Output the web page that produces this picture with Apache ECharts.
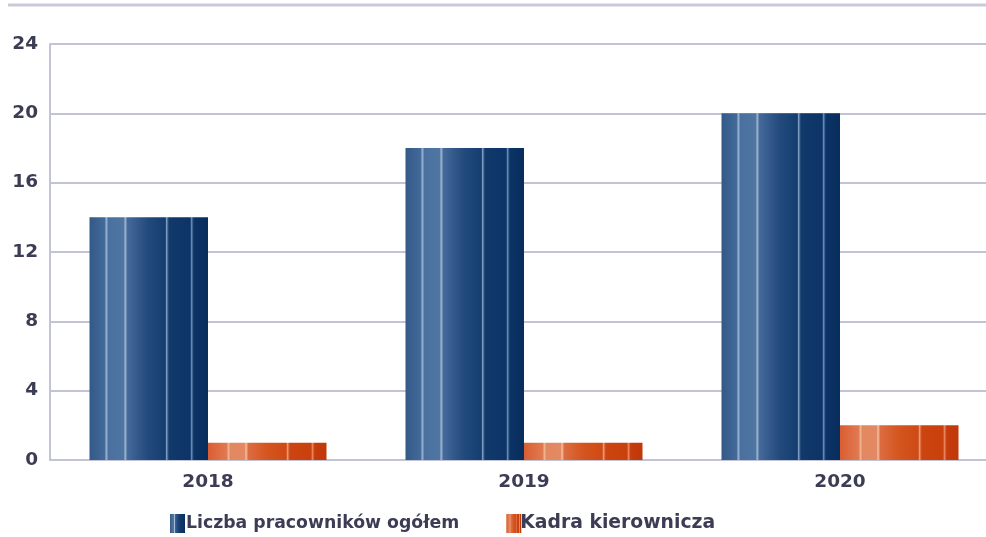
<!DOCTYPE html>
<html><head><meta charset="utf-8">
<script src="https://cdn.jsdelivr.net/npm/echarts@6/dist/echarts.min.js"></script>
<style>html,body{margin:0;padding:0;background:#fff;overflow:hidden;width:986px;height:537px}#c{width:998px;height:537px}</style>
</head><body><div id="c"></div>
<script>
var categories = ['2018', '2019', '2020'];
var seriesNames = ['Liczba pracowników ogółem', 'Kadra kierownicza'];
var totalEmployees = [14, 18, 20];
var managers = [1, 1, 2];
var yTicks = [0, 4, 8, 12, 16, 20, 24];

var textColor = '#3c3c54';
var lineColor = '#c3c3d6';
var font = '"DejaVu Sans", Verdana, sans-serif';

function grad(stops) {
  return new echarts.graphic.LinearGradient(0, 0, 1, 0, stops.map(function (s) { return { offset: s[0], color: s[1] }; }));
}
var blue = grad([
  [0, '#33598a'], [0.13, '#436a98'], [0.14, '#9fb8d4'], [0.16, '#4a70a0'],
  [0.29, '#4f76a2'], [0.30, '#a4bcd6'], [0.32, '#44699a'],
  [0.5, '#22497c'], [0.64, '#143e70'], [0.65, '#7d9bc0'], [0.67, '#11396b'],
  [0.85, '#0c3468'], [0.86, '#6a8ab2'], [0.88, '#0b3366'], [1, '#072d5c']
]);
var orange = grad([
  [0, '#da5e32'], [0.16, '#e07a52'], [0.17, '#f2b898'], [0.19, '#e3875f'],
  [0.31, '#e28a64'], [0.32, '#f4c2a6'], [0.34, '#dc6c40'],
  [0.5, '#d4551f'], [0.66, '#cf4a14'], [0.67, '#ef9a78'], [0.69, '#cc4410'],
  [0.87, '#c9400c'], [0.88, '#eb8a66'], [0.90, '#c63c0a'], [1, '#c0380a']
]);

var chart = echarts.init(document.getElementById('c'), null, { renderer: 'canvas' });
chart.setOption({
  animation: false,
  backgroundColor: '#fff',
  textStyle: { fontFamily: font },
  graphic: [{
    type: 'line', shape: { x1: 8, y1: 5, x2: 998, y2: 5 },
    style: { stroke: '#cacad8', lineWidth: 3 }
  }],
  grid: { left: 50, right: 0, top: 44, bottom: 77 },
  legend: {
    left: 165, top: 509,
    icon: 'rect', itemWidth: 15, itemHeight: 19, itemGap: 47,
    formatter: function (name) { return name === seriesNames[0] ? '{a|' + name + '}' : '{b|' + name + '}'; },
    textStyle: {
      color: textColor, fontWeight: 'bold', fontFamily: font,
      rich: {
        a: { fontSize: 17.3, fontWeight: 'bold', color: textColor, fontFamily: font, padding: [0, 0, 0, -4] },
        b: { fontSize: 18.8, fontWeight: 'bold', color: textColor, fontFamily: font, padding: [0, 0, 0, -6] }
      }
    },
    data: seriesNames
  },
  xAxis: {
    type: 'category', data: categories,
    axisTick: { show: false },
    splitLine: { show: false },
    axisLine: { lineStyle: { color: lineColor, width: 2 } },
    axisLabel: { color: textColor, fontSize: 18.5, fontWeight: 'bold', margin: 13, fontFamily: font }
  },
  yAxis: {
    type: 'value', min: yTicks[0], max: yTicks[yTicks.length - 1], interval: yTicks[1] - yTicks[0],
    axisLine: { show: true, lineStyle: { color: lineColor, width: 2 } },
    axisTick: { show: false },
    splitLine: { lineStyle: { color: lineColor, width: 2 } },
    axisLabel: { color: textColor, fontSize: 18.5, fontWeight: 'bold', margin: 12, fontFamily: font, padding: [0, 0, 9, 0] }
  },
  series: [
    { name: seriesNames[0], type: 'bar', data: totalEmployees, barGap: '0%', barCategoryGap: '25%', itemStyle: { color: blue } },
    { name: seriesNames[1], type: 'bar', data: managers, barGap: '0%', barCategoryGap: '25%', itemStyle: { color: orange } }
  ]
});
</script></body></html>
